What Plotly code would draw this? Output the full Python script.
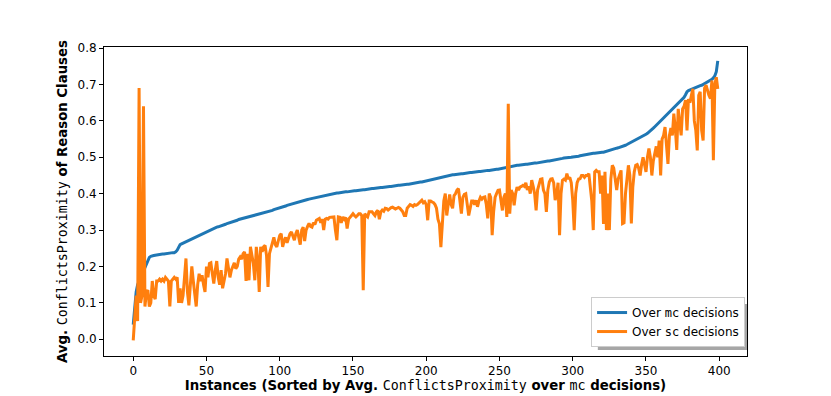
import plotly.graph_objects as go

# Avg. ConflictsProximity per instance, sorted by the mc value
mc_values = [
    0.04, 0.10, 0.13, 0.15, 0.16, 0.17, 0.18, 0.19, 0.20, 0.21,
    0.22, 0.225, 0.228, 0.23, 0.23, 0.231, 0.232, 0.232, 0.233, 0.233,
    0.234, 0.234, 0.235, 0.235, 0.236, 0.236, 0.237, 0.238, 0.238, 0.24,
    0.245, 0.255, 0.26, 0.262, 0.264, 0.265, 0.267, 0.269, 0.272, 0.274,
    0.276, 0.278, 0.279, 0.281, 0.283, 0.285, 0.287, 0.289, 0.29, 0.292,
    0.295, 0.297, 0.299, 0.301, 0.303, 0.305, 0.306, 0.308, 0.309, 0.31,
    0.312, 0.313, 0.315, 0.316, 0.318, 0.319, 0.32, 0.322, 0.323, 0.324,
    0.326, 0.327, 0.329, 0.33, 0.331, 0.333, 0.334, 0.335, 0.336, 0.337,
    0.338, 0.339, 0.34, 0.341, 0.342, 0.343, 0.345, 0.346, 0.347, 0.348,
    0.349, 0.35, 0.351, 0.352, 0.353, 0.354, 0.356, 0.357, 0.358, 0.36,
    0.361, 0.362, 0.364, 0.365, 0.366, 0.368, 0.369, 0.37, 0.372, 0.373,
    0.374, 0.375, 0.377, 0.378, 0.379, 0.38, 0.381, 0.382, 0.383, 0.384,
    0.385, 0.386, 0.387, 0.388, 0.389, 0.39, 0.391, 0.392, 0.393, 0.394,
    0.395, 0.396, 0.397, 0.397, 0.398, 0.399, 0.4, 0.4, 0.401, 0.402,
    0.402, 0.403, 0.403, 0.404, 0.404, 0.405, 0.405, 0.406, 0.406, 0.407,
    0.407, 0.408, 0.408, 0.409, 0.409, 0.41, 0.41, 0.411, 0.411, 0.412,
    0.412, 0.413, 0.413, 0.414, 0.414, 0.415, 0.415, 0.416, 0.416, 0.417,
    0.417, 0.418, 0.418, 0.419, 0.419, 0.42, 0.42, 0.421, 0.421, 0.422,
    0.422, 0.423, 0.423, 0.424, 0.424, 0.425, 0.425, 0.426, 0.426, 0.427,
    0.428, 0.428, 0.429, 0.43, 0.43, 0.431, 0.432, 0.432, 0.433, 0.434,
    0.435, 0.436, 0.437, 0.438, 0.439, 0.44, 0.441, 0.442, 0.443, 0.444,
    0.445, 0.446, 0.447, 0.448, 0.449, 0.45, 0.451, 0.451, 0.452, 0.452,
    0.453, 0.453, 0.454, 0.454, 0.455, 0.455, 0.456, 0.456, 0.457, 0.457,
    0.458, 0.458, 0.459, 0.459, 0.46, 0.46, 0.461, 0.461, 0.462, 0.462,
    0.463, 0.463, 0.464, 0.464, 0.465, 0.465, 0.466, 0.466, 0.467, 0.467,
    0.468, 0.469, 0.47, 0.47, 0.471, 0.472, 0.473, 0.474, 0.475, 0.476,
    0.476, 0.477, 0.478, 0.478, 0.479, 0.479, 0.48, 0.48, 0.481, 0.481,
    0.482, 0.482, 0.483, 0.483, 0.484, 0.484, 0.485, 0.485, 0.486, 0.487,
    0.487, 0.488, 0.489, 0.49, 0.49, 0.491, 0.492, 0.493, 0.494, 0.495,
    0.496, 0.496, 0.497, 0.497, 0.498, 0.498, 0.499, 0.499, 0.5, 0.5,
    0.501, 0.501, 0.502, 0.503, 0.503, 0.504, 0.505, 0.506, 0.506, 0.507,
    0.508, 0.509, 0.51, 0.51, 0.511, 0.511, 0.512, 0.512, 0.513, 0.513,
    0.514, 0.514, 0.515, 0.516, 0.517, 0.518, 0.519, 0.52, 0.522, 0.523,
    0.525, 0.526, 0.527, 0.528, 0.53, 0.531, 0.533, 0.535, 0.537, 0.539,
    0.541, 0.543, 0.545, 0.547, 0.549, 0.551, 0.553, 0.555, 0.557, 0.56,
    0.563, 0.566, 0.569, 0.572, 0.576, 0.58, 0.584, 0.588, 0.592, 0.596,
    0.6, 0.604, 0.608, 0.612, 0.616, 0.62, 0.624, 0.628, 0.632, 0.636,
    0.64, 0.644, 0.648, 0.652, 0.656, 0.66, 0.665, 0.672, 0.68, 0.683,
    0.685, 0.687, 0.689, 0.69, 0.692, 0.694, 0.695, 0.697, 0.698, 0.70,
    0.702, 0.705, 0.707, 0.709, 0.711, 0.714, 0.718, 0.724, 0.735, 0.765,
]

sc_values = [
    -0.003, 0.05, 0.12, 0.05, 0.69, 0.10, 0.12, 0.64, 0.09, 0.13,
    0.135, 0.09, 0.10, 0.16, 0.12, 0.11, 0.16, 0.16, 0.165, 0.16,
    0.165, 0.16, 0.17, 0.165, 0.16, 0.09, 0.16, 0.165, 0.17, 0.165,
    0.17, 0.10, 0.14, 0.10, 0.12, 0.17, 0.222, 0.13, 0.093, 0.15,
    0.20, 0.16, 0.12, 0.09, 0.15, 0.18, 0.16, 0.176, 0.15, 0.13,
    0.20, 0.17, 0.208, 0.21, 0.18, 0.153, 0.19, 0.215, 0.17, 0.15,
    0.19, 0.14, 0.16, 0.18, 0.222, 0.19, 0.17, 0.19, 0.20, 0.21,
    0.194, 0.20, 0.22, 0.226, 0.22, 0.235, 0.24, 0.16, 0.235, 0.162,
    0.254, 0.23, 0.208, 0.162, 0.254, 0.22, 0.13, 0.254, 0.24, 0.254,
    0.258, 0.23, 0.144, 0.235, 0.25, 0.27, 0.28, 0.26, 0.254, 0.27,
    0.285, 0.29, 0.254, 0.27, 0.28, 0.265, 0.28, 0.29, 0.295, 0.285,
    0.272, 0.29, 0.30, 0.28, 0.26, 0.30, 0.308, 0.27, 0.30, 0.31,
    0.318, 0.31, 0.308, 0.32, 0.315, 0.327, 0.33, 0.332, 0.32, 0.33,
    0.30, 0.33, 0.332, 0.33, 0.335, 0.336, 0.335, 0.336, 0.30, 0.272,
    0.336, 0.335, 0.32, 0.336, 0.33, 0.335, 0.304, 0.33, 0.335, 0.34,
    0.345, 0.34, 0.336, 0.34, 0.345, 0.345, 0.34, 0.135, 0.345, 0.34,
    0.336, 0.35, 0.35, 0.35, 0.345, 0.34, 0.35, 0.354, 0.33, 0.35,
    0.355, 0.352, 0.36, 0.359, 0.355, 0.36, 0.362, 0.363, 0.36, 0.358,
    0.36, 0.362, 0.36, 0.355, 0.35, 0.34, 0.34, 0.36, 0.365, 0.37,
    0.368, 0.365, 0.37, 0.368, 0.37, 0.375, 0.38, 0.382, 0.375, 0.378,
    0.37, 0.327, 0.38, 0.38, 0.377, 0.375, 0.37, 0.36, 0.33, 0.317,
    0.253, 0.32, 0.38, 0.40, 0.34, 0.37, 0.398, 0.37, 0.36, 0.395,
    0.40, 0.41, 0.414, 0.38, 0.345, 0.39, 0.398, 0.40, 0.37, 0.34,
    0.36, 0.38, 0.38, 0.37, 0.382, 0.364, 0.38, 0.39, 0.385, 0.39,
    0.391, 0.37, 0.332, 0.40, 0.39, 0.286, 0.35, 0.39, 0.40, 0.409,
    0.41, 0.38, 0.354, 0.39, 0.40, 0.336, 0.647, 0.345, 0.41, 0.40,
    0.368, 0.40, 0.418, 0.41, 0.418, 0.42, 0.423, 0.42, 0.43, 0.41,
    0.42, 0.40, 0.437, 0.42, 0.40, 0.354, 0.41, 0.425, 0.44, 0.441,
    0.41, 0.40, 0.35, 0.41, 0.432, 0.44, 0.441, 0.43, 0.382, 0.40,
    0.43, 0.286, 0.40, 0.437, 0.44, 0.437, 0.455, 0.44, 0.445, 0.43,
    0.382, 0.30, 0.40, 0.43, 0.44, 0.441, 0.45, 0.45, 0.445, 0.45,
    0.45, 0.455, 0.42, 0.38, 0.30, 0.46, 0.464, 0.46, 0.46, 0.40,
    0.45, 0.317, 0.46, 0.30, 0.40, 0.30, 0.44, 0.478, 0.47, 0.44,
    0.41, 0.44, 0.45, 0.464, 0.318, 0.32, 0.40, 0.437, 0.478, 0.45,
    0.318, 0.418, 0.46, 0.478, 0.48, 0.47, 0.45, 0.48, 0.50, 0.48,
    0.46, 0.50, 0.524, 0.50, 0.45, 0.49, 0.51, 0.53, 0.50, 0.546,
    0.45, 0.55, 0.56, 0.583, 0.533, 0.482, 0.56, 0.58, 0.56, 0.62,
    0.58, 0.52, 0.633, 0.60, 0.56, 0.633, 0.64, 0.657, 0.574, 0.66,
    0.65, 0.67, 0.688, 0.60, 0.574, 0.519, 0.67, 0.68, 0.574, 0.546,
    0.69, 0.698, 0.68, 0.67, 0.661, 0.711, 0.492, 0.70, 0.72, 0.688,
]

instances = list(range(len(mc_values)))
x_ticks = [0, 50, 100, 150, 200, 250, 300, 350, 400]
y_ticks = [0.0, 0.1, 0.2, 0.3, 0.4, 0.5, 0.6, 0.7, 0.8]

MONO = "<span style='font-family:DejaVu Sans Mono;font-weight:normal'>%s</span>"

fig = go.Figure()
fig.add_trace(go.Scatter(
    x=instances, y=mc_values, mode="lines",
    line=dict(color="#1f77b4", width=3),
    name="Over " + MONO % "mc" + " decisions",
))
fig.add_trace(go.Scatter(
    x=instances, y=sc_values, mode="lines",
    line=dict(color="#ff7f0e", width=3),
    name="Over " + MONO % "sc" + " decisions",
))

axis_style = dict(
    showline=True, mirror=True, linecolor="black", linewidth=1,
    showgrid=False, zeroline=False, automargin=False,
    ticks="outside", ticklen=4, tickwidth=1, tickcolor="black",
    tickfont=dict(size=12, color="black"),
)

fig.update_xaxes(
    range=[-19.95, 418.95], tickvals=x_ticks,
    title=dict(
        text="<b>Instances (Sorted by Avg. </b>" + MONO % "ConflictsProximity"
             + "<b> over </b>" + MONO % "mc" + "<b> decisions)</b>",
        font=dict(size=13.3, color="black"), standoff=3,
    ),
    **axis_style,
)
fig.update_yaxes(
    range=[-0.046, 0.803], tickvals=y_ticks, tickformat=".1f",
    title=dict(
        text="<b>Avg. </b>" + MONO % "ConflictsProximity" + "<b> of Reason Clauses</b>",
        font=dict(size=13.3, color="black"), standoff=6,
    ),
    **axis_style,
)

# matplotlib-like drop shadow behind the legend box
fig.add_shape(
    type="rect", xref="paper", yref="paper",
    x0=0.768, x1=1.0016, y0=0.0194, y1=0.168,
    line=dict(width=0), fillcolor="rgba(0,0,0,0.35)", layer="above",
)

# the page body adds an 8px offset, so the figure is 8px smaller than the window
fig.update_layout(
    width=823, height=388,
    margin=dict(l=96, r=84, t=39, b=40),
    paper_bgcolor="white", plot_bgcolor="white",
    font=dict(family="DejaVu Sans", color="black"),
    legend=dict(
        x=0.997, y=0.029, xanchor="right", yanchor="bottom",
        bgcolor="white", bordercolor="#cccccc", borderwidth=1,
        font=dict(size=12), itemwidth=30, tracegroupgap=0,
    ),
)

fig.write_html("out.html")
